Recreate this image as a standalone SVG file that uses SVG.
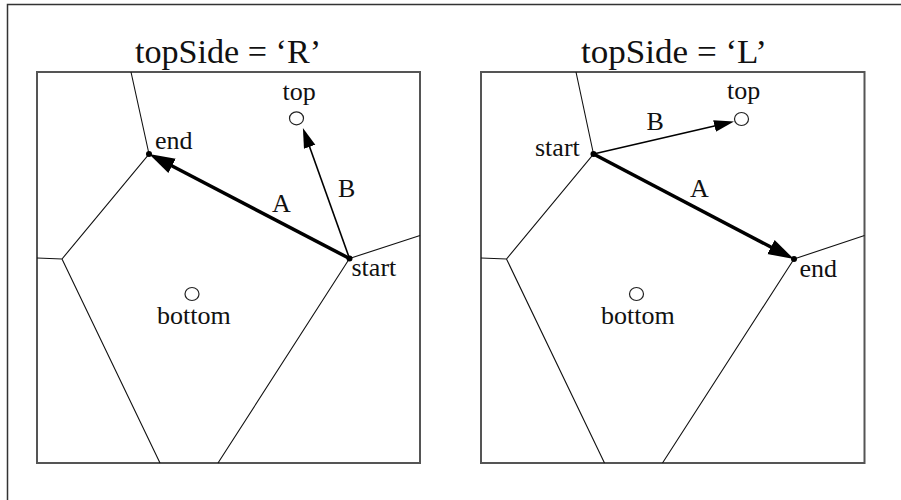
<svg xmlns="http://www.w3.org/2000/svg" width="901" height="500" viewBox="0 0 901 500">
  <style>
    .frame { fill: none; stroke: #333; stroke-width: 1.5; }
    .panel { fill: #fff; stroke: #555; stroke-width: 2; }
    .cell { fill: none; stroke: #111; stroke-width: 1.1; }
    .site { fill: #fff; stroke: #222; stroke-width: 1.2; }
    .vtx { fill: #000; }
    .thick { fill: none; stroke: #000; stroke-width: 3.5; }
    .thin { fill: none; stroke: #000; stroke-width: 1.6; }
    text { font-family: "Liberation Serif", "Times New Roman", serif; fill: #111; }
    .lbl { font-size: 26px; }
    .ttl { font-size: 33px; }
  </style>
  <defs>
    <marker id="headA" markerUnits="userSpaceOnUse" viewBox="0 -9 28 18" refX="1" refY="0" markerWidth="28" markerHeight="18" orient="auto">
      <path d="M0,-8 L26,0 L0,8 z" fill="#000"/>
    </marker>
    <marker id="headB" markerUnits="userSpaceOnUse" viewBox="0 -7 22 14" refX="1" refY="0" markerWidth="22" markerHeight="14" orient="auto">
      <path d="M0,-6 L20,0 L0,6 z" fill="#000"/>
    </marker>
  </defs>

  <rect width="901" height="500" fill="#fff"/>
  <path class="frame" d="M7.5,500 V4.5 H901"/>

  <!-- Left panel: topSide = 'R' -->
  <g id="panel-R">
    <text class="ttl" x="135" y="63" textLength="186" lengthAdjust="spacingAndGlyphs">topSide = ‘R’</text>
    <rect class="panel" x="37" y="72" width="383" height="391"/>
    <g id="cells-R">
      <path class="cell" d="M131,72 L149,154 L62,259 L37,258 M62,259 L160,463 M349.5,258.5 L218,463 M349.5,258.5 L420,235.5"/>
    </g>
    <g id="node-top-R">
      <ellipse class="site" cx="296.5" cy="118.3" rx="7" ry="6.5"/>
      <text class="lbl" x="282.5" y="99.5">top</text>
    </g>
    <g id="node-bottom-R">
      <ellipse class="site" cx="192" cy="294" rx="7" ry="6.5"/>
      <text class="lbl" x="157" y="324">bottom</text>
    </g>
    <g id="node-end-R">
      <circle class="vtx" cx="149" cy="154" r="3"/>
      <text class="lbl" x="155" y="148.5">end</text>
    </g>
    <g id="node-start-R">
      <circle class="vtx" cx="349.5" cy="258.5" r="3"/>
      <text class="lbl" x="351.5" y="276">start</text>
    </g>
    <g id="connectors-R">
      <line class="thick" x1="349.5" y1="258.5" x2="171.2" y2="165.5" marker-end="url(#headA)"/>
      <line class="thin" x1="349.5" y1="258.5" x2="309.3" y2="145.9" marker-end="url(#headB)"/>
      <text class="lbl" x="272" y="212">A</text>
      <text class="lbl" x="338" y="197">B</text>
    </g>
  </g>

  <!-- Right panel: topSide = 'L' -->
  <g id="panel-L">
    <text class="ttl" x="581" y="63" textLength="186" lengthAdjust="spacingAndGlyphs">topSide = ‘L’</text>
    <rect class="panel" x="481" y="72" width="383.5" height="391"/>
    <g id="cells-L">
      <path class="cell" d="M576,72 L593.5,154 L506.5,259 L481,258 M506.5,259 L604.5,463 M794,259 L662.5,463 M794,259 L864.5,235.5"/>
    </g>
    <g id="node-top-L">
      <ellipse class="site" cx="741.5" cy="119" rx="7" ry="6.5"/>
      <text class="lbl" x="727" y="98.5">top</text>
    </g>
    <g id="node-bottom-L">
      <ellipse class="site" cx="636.5" cy="294" rx="7" ry="6.5"/>
      <text class="lbl" x="601" y="324">bottom</text>
    </g>
    <g id="node-start-L">
      <circle class="vtx" cx="593.5" cy="154" r="3"/>
      <text class="lbl" x="535" y="156">start</text>
    </g>
    <g id="node-end-L">
      <circle class="vtx" cx="794" cy="259" r="3"/>
      <text class="lbl" x="799.5" y="276.5">end</text>
    </g>
    <g id="connectors-L">
      <line class="thick" x1="593.5" y1="154" x2="771.8" y2="247.5" marker-end="url(#headA)"/>
      <line class="thin" x1="593.5" y1="154" x2="715.5" y2="125.8" marker-end="url(#headB)"/>
      <text class="lbl" x="690" y="197">A</text>
      <text class="lbl" x="646.5" y="130">B</text>
    </g>
  </g>
</svg>
